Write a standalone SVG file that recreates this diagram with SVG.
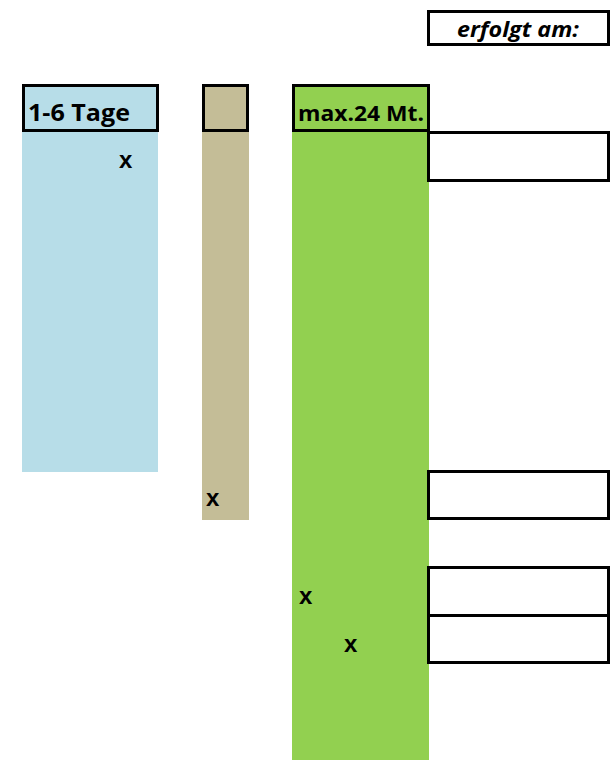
<svg xmlns="http://www.w3.org/2000/svg" width="611" height="760" viewBox="0 0 611 760">
<style>
.t{font-family:"Open Sans","Liberation Sans",sans-serif;font-weight:bold;fill:#000}
.box{fill:#fff;stroke:#000;stroke-width:3}
.hdr{stroke:#000;stroke-width:3}
.x{font-family:"Liberation Sans",sans-serif;font-weight:bold;font-size:24px;fill:#000}
</style>
<rect width="611" height="760" fill="#fff"/>
<g id="erfolgt">
<rect class="box" x="428.5" y="11.5" width="180" height="33"/>
<text class="t" x="457" y="37" font-size="22" font-style="italic" textLength="122" lengthAdjust="spacingAndGlyphs">erfolgt am:</text>
</g>
<g id="col-blue">
<rect x="22" y="84" width="136" height="388" fill="#B7DDE8"/>
<rect class="hdr" x="23.5" y="85.5" width="134" height="45" fill="#B7DDE8"/>
<text class="t" x="28" y="121" font-size="23" textLength="102" lengthAdjust="spacingAndGlyphs">1-6 Tage</text>
<text class="x" x="119" y="168">x</text>
</g>
<g id="col-tan">
<rect x="202" y="84" width="47" height="436" fill="#C4BD97"/>
<rect class="hdr" x="203.5" y="85.5" width="44" height="45" fill="#C4BD97"/>
<text class="x" x="206" y="506">x</text>
</g>
<g id="col-green">
<rect x="292" y="84" width="137" height="676" fill="#92D050"/>
<rect class="hdr" x="293.5" y="85.5" width="135" height="45" fill="#92D050"/>
<text class="t" x="298" y="121" font-size="22" textLength="126" lengthAdjust="spacingAndGlyphs">max.24 Mt.</text>
<text class="x" x="299" y="604">x</text>
<text class="x" x="344" y="652">x</text>
</g>
<g id="dates">
<rect class="box" x="428.5" y="132.5" width="180" height="48"/>
<rect class="box" x="428.5" y="471.5" width="180" height="47"/>
<rect class="box" x="428.5" y="567.5" width="180" height="48"/>
<rect class="box" x="428.5" y="615.5" width="180" height="47"/>
</g>
<g id="connectors"></g>
</svg>
